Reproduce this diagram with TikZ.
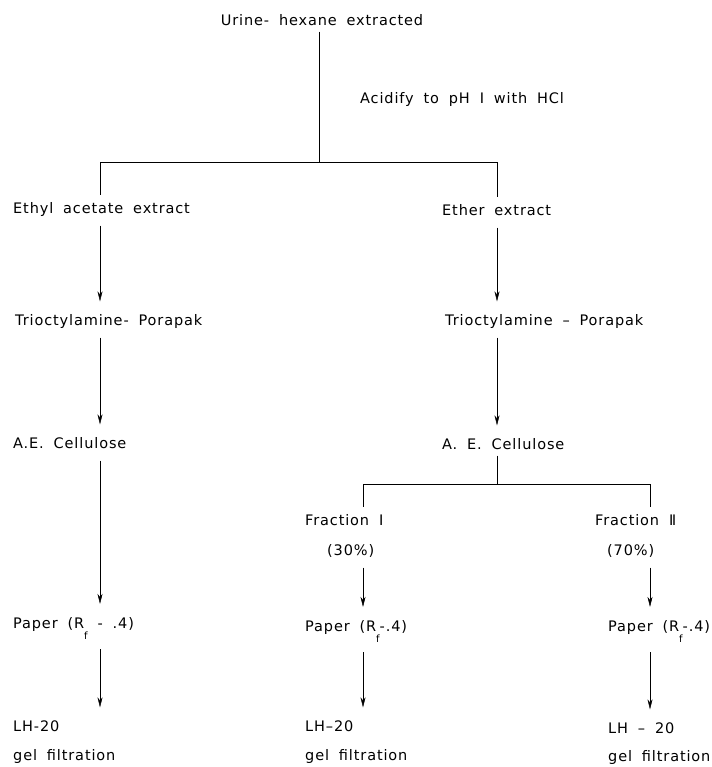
\documentclass[tikz,border=0pt]{standalone}
\usepackage{fontspec}
\setmainfont{DejaVu Sans}[LetterSpace=6,WordSpace=1.8]
\usepackage{tikz}
\usetikzlibrary{arrows.meta,positioning}
\newcommand{\rf}{R\raisebox{-11pt}{\fontsize{10}{10}\selectfont f}}
\tikzset{%
	stage/.style = {anchor=west, inner xsep=0pt, inner ysep=3pt, text height=10pt, text depth=3pt, font=\fontsize{14.5}{17}\selectfont},
	paper/.style = {stage, text depth=12pt},
	link/.style  = {thin, shorten >=5pt},
	arrow/.style = {thin, -{Stealth[length=10pt,width=5pt]}, shorten <=6pt, shorten >=11pt},
}
\begin{document}
\begin{tikzpicture}[x=1pt,y=-1pt]
	\useasboundingbox (0,0) rectangle (711,767);
	% columns
	\coordinate (colL) at (100,0);
	\coordinate (colR) at (497,0);
	\coordinate (colA) at (363,0);
	\coordinate (colB) at (650,0);
	\coordinate (split) at (319,162);
	\coordinate (splitR) at (497,484);
	% top
	\node[stage, anchor=center] (urine) at (322,22) {Urine- hexane extracted};
	\node[stage] (acid) at (360,100) {Acidify to pH I with HCl};
	% left branch
	\node[stage] (ethyl) at (13,210) {Ethyl acetate extract};
	\node[stage] (trioL) at (15,322) {Trioctylamine- Porapak};
	\node[stage] (aecL) at (13,445) {A.E. Cellulose};
	\node[paper] (paperL) at (13,629) {Paper (\rf\ - .4)};
	\node[stage] (lhL) at (13,728) {LH-20};
	\node[stage] (gelL) at (13,757) {gel filtration};
	% right branch
	\node[stage] (ether) at (442,212) {Ether extract};
	\node[stage] (trioR) at (445,322) {Trioctylamine – Porapak};
	\node[stage] (aecR) at (442,446) {A. E. Cellulose};
	\node[stage] (fracA) at (305,522) {Fraction Ⅰ};
	\node[stage] (pctA) at (327,552) {(30\%)};
	\node[paper] (paperA) at (305,632) {Paper (\rf-.4)};
	\node[stage] (lhA) at (305,728) {LH–20};
	\node[stage] (gelA) at (305,757) {gel filtration};
	\node[stage] (fracB) at (595,522) {Fraction Ⅱ};
	\node[stage] (pctB) at (607,552) {(70\%)};
	\node[paper] (paperB) at (608,632) {Paper (\rf-.4)};
	\node[stage] (lhB) at (608,730) {LH – 20};
	\node[stage] (gelB) at (608,758) {gel filtration};
	% connectors
	\draw[link] (urine.south -| split) -- (split) -| (ethyl.north -| colL);
	\draw[link] (split) -| (ether.north -| colR);
	\draw[arrow] (ethyl.south -| colL) -- (trioL.north -| colL);
	\draw[arrow] (trioL.south -| colL) -- (aecL.north -| colL);
	\draw[arrow] (aecL.south -| colL) -- (paperL.north -| colL);
	\draw[arrow] (paperL.south -| colL) -- (lhL.north -| colL);
	\draw[arrow] (ether.south -| colR) -- (trioR.north -| colR);
	\draw[arrow] (trioR.south -| colR) -- (aecR.north -| colR);
	\draw[thin] (aecR.south -| colR) -- (splitR);
	\draw[link] (splitR) -| (fracA.north -| colA);
	\draw[link] (splitR) -| (fracB.north -| colB);
	\draw[arrow] (pctA.south -| colA) -- (paperA.north -| colA);
	\draw[arrow] (paperA.south -| colA) -- (lhA.north -| colA);
	\draw[arrow] (pctB.south -| colB) -- (paperB.north -| colB);
	\draw[arrow] (paperB.south -| colB) -- (lhB.north -| colB);
\end{tikzpicture}
\end{document}
